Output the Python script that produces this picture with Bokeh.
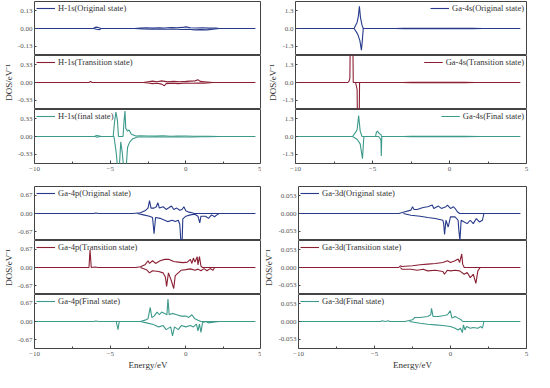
from bokeh.plotting import figure
from bokeh.layouts import column, row
from bokeh.models import (FixedTicker, NumeralTickFormatter, Legend, LegendItem,
                          Range1d)
from bokeh.embed import file_html
from bokeh.resources import INLINE

FONT = "Liberation Serif"
COLORS = ["#26398a", "#8a1f33", "#3c9a8b"]

X_TICKS = [-10, -5, 0, 5]
X_MINOR = [-7.5, -2.5, 2.5]

# ---------------- H-1s ----------------
H1S_LABELS = ["H-1s(Original state)", "H-1s(Transition state)", "H-1s(final state)"]
H1S_YMAX = [0.2, 0.5, 0.5]
H1S_TICK = [0.13, 0.33, 0.33]
H1S_ORIG_UP = [(-10, 0), (-6.1, 0), (-6.0, 0.008), (-5.85, 0.01), (-5.7, 0.004), (-5.6, 0),
               (-3.4, 0), (-3.0, 0.003), (-2.6, 0.005), (-2.2, 0.003), (-1.8, 0.006), (-1.4, 0.004),
               (-1.0, 0.007), (-0.6, 0.005), (-0.2, 0.008), (0.0, 0.012), (0.3, 0.005), (0.7, 0.004),
               (1.1, 0.006), (1.5, 0.003), (2.0, 0.004), (2.2, 0), (4.6, 0)]
H1S_ORIG_DN = [(-6.1, 0), (-5.9, -0.006), (-5.7, -0.008), (-5.6, 0), (-3.4, 0), (-2.8, -0.003),
               (-2.3, -0.005), (-1.8, -0.004), (-1.3, -0.006), (-0.8, -0.004), (-0.3, -0.007),
               (0.2, -0.005), (0.6, -0.01), (1.0, -0.008), (1.4, -0.01), (1.8, -0.006), (2.2, 0)]
H1S_TRANS_UP = [(-10, 0), (-6.4, 0), (-6.3, 0.02), (-6.2, 0), (-2.8, 0), (-2.5, 0.015), (-2.2, 0.025),
                (-1.9, 0.015), (-1.6, 0.03), (-1.2, 0.012), (-0.8, 0.02), (-0.4, 0.015), (0.0, 0.02),
                (0.3, 0.025), (0.6, 0.03), (0.8, 0.05), (0.95, 0.02), (1.2, 0.015), (1.8, 0), (4.6, 0)]
H1S_TRANS_DN = [(-2.8, 0), (-2.5, -0.01), (-2.2, -0.02), (-1.9, -0.015), (-1.6, -0.03), (-1.42, -0.06),
                (-1.3, -0.02), (-0.9, -0.015), (-0.5, -0.02), (0.0, -0.01), (0.4, -0.015), (0.8, -0.01),
                (1.2, -0.012), (1.8, 0)]
H1S_FINAL_UP = [(-10, 0), (-6.05, 0), (-5.9, 0.02), (-5.7, 0.01), (-5.6, 0), (-4.8, 0), (-4.72, 0.25),
                (-4.62, 0.45), (-4.52, 0.3), (-4.45, 0), (-4.15, 0), (-4.08, 0.3), (-4.02, 0.47),
                (-3.97, 0.15), (-3.85, 0.1), (-3.75, 0.12), (-3.6, 0.04), (-3.3, 0.01), (-3.0, 0.015),
                (-2.5, 0.01), (-2.0, 0.008), (-1.5, 0.012), (-1.0, 0.006), (-0.5, 0.01), (0.0, 0.008),
                (0.5, 0.006), (1.0, 0.005), (1.5, 0.004), (2.2, 0), (4.6, 0)]
H1S_FINAL_DN = [(-6.0, 0), (-5.85, -0.015), (-5.7, 0), (-4.75, 0), (-4.6, -0.3), (-4.5, -0.6),
                (-4.4, -0.6), (-4.3, -0.1), (-4.2, -0.3), (-4.1, -0.6), (-3.95, -0.6), (-3.85, -0.2),
                (-3.7, -0.1), (-3.5, -0.04), (-3.2, -0.01), (-2.5, -0.01), (-2.0, -0.006),
                (-1.5, -0.01), (-1.0, -0.008), (-0.5, -0.006), (0.0, -0.01), (0.5, -0.008),
                (1.0, -0.006), (1.5, -0.005), (2.2, 0)]

# ---------------- Ga-4s ----------------
GA4S_LABELS = ["Ga-4s(Original state)", "Ga-4s(Transition state)", "Ga-4s(Final state)"]
GA4S_YMAX = [2.0, 2.0, 2.0]
GA4S_TICK = [1.3, 1.3, 1.3]
GA4S_ORIG_UP = [(-10, 0), (-6.2, 0), (-6.0, 0.45), (-5.92, 0.9), (-5.85, 1.65), (-5.78, 0.8),
                (-5.68, 0.25), (-5.6, 0), (-3.5, 0), (-3.0, 0.01), (-2.5, 0.02), (-2.0, 0.01),
                (-1.5, 0.02), (-1.0, 0.01), (-0.5, 0.015), (0.0, 0.01), (0.5, 0.01), (1.0, 0.008),
                (1.5, 0.006), (2.2, 0), (4.6, 0)]
GA4S_ORIG_DN = [(-6.2, 0), (-6.05, -0.25), (-5.95, -0.45), (-5.82, -0.9), (-5.72, -1.6),
                (-5.66, -0.9), (-5.6, 0), (-3.5, 0), (-3.0, -0.01), (-2.5, -0.015), (-2.0, -0.01),
                (-1.5, -0.02), (-1.0, -0.01), (-0.5, -0.015), (0.0, -0.01), (0.5, -0.012),
                (1.0, -0.008), (1.5, -0.006), (2.2, 0)]
GA4S_TRANS_UP = [(-10, 0), (-6.6, 0), (-6.52, 0.1), (-6.47, 0.3), (-6.45, 2.5), (-6.27, 2.5),
                 (-6.25, 0), (-3.1, 0), (-2.5, 0.015), (-2.0, 0.01), (-1.5, 0.02), (-1.0, 0.01),
                 (-0.5, 0.015), (0.0, 0.01), (0.5, 0.012), (1.0, 0.01), (1.65, 0), (4.6, 0)]
GA4S_TRANS_DN = [(-6.1, 0), (-6.0, -0.5), (-5.98, -2.5), (-5.86, -2.5), (-5.84, 0), (-3.1, 0),
                 (-2.5, -0.01), (-2.0, -0.015), (-1.5, -0.01), (-1.0, -0.02), (-0.5, -0.01),
                 (0.0, -0.015), (0.5, -0.01), (1.0, -0.012), (1.65, 0)]
GA4S_FINAL_UP = [(-10, 0), (-6.3, 0), (-6.1, 0.3), (-6.0, 0.5), (-5.9, 1.56), (-5.8, 0.4),
                 (-5.68, 0), (-4.8, 0), (-4.75, 0.3), (-4.68, 0.4), (-4.55, 0.2), (-4.45, 0.15),
                 (-4.42, 0), (-3.0, 0), (-2.5, 0.015), (-2.0, 0.01), (-1.5, 0.02), (-1.0, 0.01),
                 (-0.5, 0.015), (0.0, 0.01), (0.5, 0.012), (1.0, 0.008), (2.0, 0), (4.6, 0)]
GA4S_FINAL_DN = [(-6.3, 0), (-6.0, -0.2), (-5.8, -0.55), (-5.65, -1.65), (-5.58, -0.3),
                 (-5.55, 0), (-4.6, 0), (-4.5, -0.15), (-4.45, -0.3), (-4.43, -1.45), (-4.4, -0.1),
                 (-4.38, 0), (-3.0, 0), (-2.5, -0.01), (-2.0, -0.015), (-1.5, -0.01), (-1.0, -0.015),
                 (-0.5, -0.01), (0.0, -0.015), (0.5, -0.01), (1.0, -0.01), (2.0, 0)]

# ---------------- Ga-4p ----------------
GA4P_LABELS = ["Ga-4p(Original state)", "Ga-4p(Transition state)", "Ga-4p(Final state)"]
GA4P_YMAX = [1.0, 1.0, 1.0]
GA4P_TICK = [0.67, 0.67, 0.67]
GA4P_ORIG_UP = [(-10, 0), (-6.1, 0), (-5.95, 0.02), (-5.75, 0), (-3.5, 0), (-3.0, 0.03),
                (-2.7, 0.1), (-2.5, 0.2), (-2.4, 0.48), (-2.3, 0.2), (-2.1, 0.2), (-1.95, 0.25),
                (-1.85, 0.4), (-1.75, 0.2), (-1.5, 0.25), (-1.3, 0.15), (-1.1, 0.22), (-0.95, 0.28),
                (-0.8, 0.15), (-0.6, 0.2), (-0.4, 0.12), (-0.25, 0.15), (-0.13, 0.25), (0.0, 0.1),
                (0.2, 0.05), (0.4, 0.03), (0.56, 0), (4.6, 0)]
GA4P_ORIG_DN = [(-3.2, 0), (-2.8, -0.05), (-2.4, -0.1), (-2.2, -0.15), (-2.1, -0.75), (-2.0, -0.15),
                (-1.7, -0.18), (-1.4, -0.25), (-1.2, -0.3), (-0.9, -0.25), (-0.7, -0.3), (-0.5, -0.25),
                (-0.4, -0.4), (-0.32, -1.1), (-0.25, -1.1), (-0.2, -0.2), (0.0, -0.1), (0.3, -0.05),
                (0.6, -0.03), (0.8, -0.1), (0.92, -0.35), (1.0, -0.1), (1.3, -0.1), (1.5, -0.18),
                (1.7, -0.05), (1.9, -0.12), (2.05, -0.05), (2.2, 0)]
GA4P_TRANS_UP = [(-10, 0), (-6.4, 0), (-6.33, 0.65), (-6.25, 0), (-6.0, 0.02), (-5.8, 0),
                 (-3.3, 0), (-3.0, 0.03), (-2.7, 0.1), (-2.5, 0.25), (-2.4, 0.15), (-2.2, 0.25),
                 (-2.0, 0.15), (-1.7, 0.25), (-1.4, 0.3), (-1.1, 0.3), (-0.8, 0.22), (-0.5, 0.2),
                 (-0.2, 0.18), (0.1, 0.2), (0.3, 0.3), (0.4, 0.15), (0.5, 0.35), (0.6, 0.2),
                 (0.75, 0.4), (0.8, 0.1), (0.9, 0.4), (1.0, 0.05), (1.1, 0), (4.6, 0)]
GA4P_TRANS_DN = [(-3.0, 0), (-2.6, -0.08), (-2.4, -0.2), (-2.2, -0.12), (-1.8, -0.15),
                 (-1.5, -0.2), (-1.35, -0.35), (-1.27, -0.7), (-1.15, -0.2), (-0.95, -0.5),
                 (-0.8, -0.78), (-0.7, -0.3), (-0.5, -0.2), (-0.3, -0.1), (0.0, -0.08),
                 (0.3, -0.05), (0.6, -0.1), (0.8, -0.06), (1.0, -0.12), (1.2, -0.04), (1.4, -0.12),
                 (1.6, -0.04), (1.8, -0.1), (1.9, 0)]
GA4P_FINAL_UP = [(-10, 0), (-6.1, 0), (-5.95, 0.02), (-5.75, 0), (-3.0, 0), (-2.7, 0.05),
                 (-2.5, 0.1), (-2.35, 0.52), (-2.25, 0.15), (-2.1, 0.2), (-1.9, 0.35), (-1.75, 0.25),
                 (-1.6, 0.35), (-1.4, 0.3), (-1.25, 0.25), (-1.18, 0.83), (-1.1, 0.25), (-0.9, 0.3),
                 (-0.6, 0.25), (-0.3, 0.2), (0.0, 0.2), (0.2, 0.15), (0.4, 0.25), (0.6, 0.1),
                 (0.8, 0.05), (1.0, 0), (4.6, 0)]
GA4P_FINAL_DN = [(-4.6, 0), (-4.48, -0.3), (-4.4, 0), (-3.0, 0), (-2.6, -0.05), (-2.2, -0.1),
                 (-2.0, -0.15), (-1.8, -0.2), (-1.5, -0.15), (-1.3, -0.3), (-1.0, -0.2),
                 (-0.88, -0.53), (-0.75, -0.2), (-0.5, -0.3), (-0.3, -0.15), (0.0, -0.2),
                 (0.3, -0.15), (0.5, -0.2), (0.7, -0.1), (0.8, -0.35), (0.9, -0.1), (1.0, -0.4),
                 (1.1, -0.05), (1.3, 0), (1.5, -0.05), (1.8, -0.03), (2.2, 0)]

# ---------------- Ga-3d ----------------
GA3D_LABELS = ["Ga-3d(Original state)", "Ga-3d(Transition state)", "Ga-3d(Final state)"]
GA3D_YMAX = [0.08, 0.08, 0.08]
GA3D_TICK = [0.053, 0.053, 0.053]
GA3D_ORIG_UP = [(-10, 0), (-3.4, 0), (-3.0, 0.005), (-2.6, 0.01), (-2.5, 0.02), (-2.4, 0.012),
                (-2.2, 0.012), (-1.8, 0.018), (-1.5, 0.02), (-1.2, 0.025), (-1.1, 0.015),
                (-0.8, 0.022), (-0.6, 0.015), (-0.3, 0.02), (-0.2, 0.025), (0.0, 0.015),
                (0.2, 0.02), (0.35, 0.012), (0.45, 0.005), (0.6, 0), (4.6, 0)]
GA3D_ORIG_DN = [(-3.1, 0), (-2.6, -0.005), (-2.0, -0.008), (-1.5, -0.012), (-1.0, -0.015),
                (-0.5, -0.02), (-0.45, -0.03), (-0.39, -0.062), (-0.3, -0.02), (-0.15, -0.04),
                (0.0, -0.01), (0.3, -0.01), (0.5, -0.02), (0.55, -0.05), (0.62, -0.08),
                (0.7, -0.02), (0.9, -0.025), (1.1, -0.03), (1.3, -0.02), (1.5, -0.03),
                (1.7, -0.015), (1.9, -0.025), (2.1, -0.02), (2.2, 0)]
GA3D_TRANS_UP = [(-10, 0), (-3.4, 0), (-3.3, 0.005), (-3.2, 0.003), (-2.5, 0.005), (-2.0, 0.008),
                 (-1.5, 0.01), (-1.0, 0.012), (-0.5, 0.015), (-0.2, 0.02), (0.0, 0.015),
                 (0.3, 0.02), (0.5, 0.025), (0.6, 0.015), (0.74, 0.04), (0.8, 0.01), (0.9, 0),
                 (4.6, 0)]
GA3D_TRANS_DN = [(-3.3, 0), (-3.2, -0.005), (-2.6, -0.005), (-2.2, -0.008), (-1.8, -0.005),
                 (-1.5, -0.01), (-1.0, -0.008), (-0.5, -0.012), (-0.4, -0.02), (-0.2, -0.008),
                 (0.0, -0.01), (0.3, -0.008), (0.6, -0.01), (0.9, -0.02), (1.1, -0.015),
                 (1.3, -0.03), (1.5, -0.02), (1.67, -0.047), (1.8, -0.01), (1.95, 0)]
GA3D_FINAL_UP = [(-10, 0), (-4.6, 0), (-4.5, 0.002), (-4.3, 0), (-4.1, 0.002), (-4.0, 0),
                 (-3.0, 0), (-2.5, 0.005), (-2.35, 0.012), (-2.0, 0.012), (-1.5, 0.015),
                 (-1.3, 0.02), (-1.25, 0.039), (-1.15, 0.015), (-0.8, 0.015), (-0.4, 0.018),
                 (-0.2, 0.02), (-0.02, 0.032), (0.1, 0.01), (0.3, 0.015), (0.5, 0.01), (0.7, 0.005),
                 (0.8, 0), (4.6, 0)]
GA3D_FINAL_DN = [(-2.7, 0), (-2.0, -0.005), (-1.5, -0.008), (-1.0, -0.01), (-0.5, -0.012),
                 (0.0, -0.015), (0.3, -0.02), (0.5, -0.025), (0.65, -0.02), (0.78, -0.033),
                 (0.85, -0.01), (0.95, -0.025), (1.05, -0.015), (1.3, -0.02), (1.5, -0.018),
                 (1.8, -0.02), (2.0, -0.015), (2.1, -0.02), (2.2, 0)]

PANELS = [
    dict(labels=H1S_LABELS, ymax=H1S_YMAX, tick=H1S_TICK, fmt="0.00",
         curves=[(H1S_ORIG_UP, H1S_ORIG_DN), (H1S_TRANS_UP, H1S_TRANS_DN), (H1S_FINAL_UP, H1S_FINAL_DN)],
         side="left", legend="top_left", bottom=False),
    dict(labels=GA4S_LABELS, ymax=GA4S_YMAX, tick=GA4S_TICK, fmt="0.0",
         curves=[(GA4S_ORIG_UP, GA4S_ORIG_DN), (GA4S_TRANS_UP, GA4S_TRANS_DN), (GA4S_FINAL_UP, GA4S_FINAL_DN)],
         side="right", legend="top_right", bottom=False),
    dict(labels=GA4P_LABELS, ymax=GA4P_YMAX, tick=GA4P_TICK, fmt="0.00",
         curves=[(GA4P_ORIG_UP, GA4P_ORIG_DN), (GA4P_TRANS_UP, GA4P_TRANS_DN), (GA4P_FINAL_UP, GA4P_FINAL_DN)],
         side="left", legend="top_left", bottom=True),
    dict(labels=GA3D_LABELS, ymax=GA3D_YMAX, tick=GA3D_TICK, fmt="0.000",
         curves=[(GA3D_ORIG_UP, GA3D_ORIG_DN), (GA3D_TRANS_UP, GA3D_TRANS_DN), (GA3D_FINAL_UP, GA3D_FINAL_DN)],
         side="right", legend="top_left", bottom=True),
]

FRAME_W = 231
FRAME_H = 54
AX_COLOR = "#444444"
TICK_FONT = "7px"


def make_panel(pan):
    figs = []
    left_b = 30 if pan["side"] == "left" else 34
    right_b = 0 if pan["side"] == "left" else 4
    for i in range(3):
        top_b = 1 if (i == 0 and not pan["bottom"]) else 0
        if i == 2:
            bot_b = 24 if pan["bottom"] else 23
        else:
            bot_b = 0
        ym = pan["ymax"][i]
        p = figure(width=left_b + FRAME_W + right_b, height=top_b + FRAME_H + bot_b,
                   x_range=Range1d(-10, 5), y_range=Range1d(-ym, ym),
                   output_backend="svg", toolbar_location=None,
                   min_border_left=left_b, min_border_right=right_b,
                   min_border_top=top_b, min_border_bottom=bot_b)
        p.grid.visible = False
        p.outline_line_color = AX_COLOR
        p.outline_line_width = 1
        p.background_fill_color = "white"
        p.border_fill_color = "white"
        up, dn = pan["curves"][i]
        color = COLORS[i]
        r_up = p.line([a for a, b in up], [b for a, b in up], line_color=color, line_width=1.1)
        p.line([a for a, b in dn], [b for a, b in dn], line_color=color, line_width=1.1)

        yax = p.yaxis[0]
        t = pan["tick"][i]
        yax.ticker = FixedTicker(ticks=[-t, 0, t], minor_ticks=[])
        yax.formatter = NumeralTickFormatter(format=pan["fmt"])
        yax.major_label_text_font = FONT
        yax.major_label_text_font_size = TICK_FONT
        yax.major_label_text_color = "#555555"
        yax.major_tick_in = 2
        yax.major_tick_out = 0
        yax.major_tick_line_color = AX_COLOR
        yax.minor_tick_line_color = None
        yax.axis_line_color = None
        yax.major_label_standoff = 2
        if i == 1:
            yax.axis_label = "DOS/eV\u207b\u00b9"
            yax.axis_label_text_font = FONT
            yax.axis_label_text_font_size = "9px"
            yax.axis_label_text_font_style = "normal"
            yax.axis_label_text_color = "#333333"
            yax.axis_label_standoff = 1

        xax = p.xaxis[0]
        if i == 2:
            xax.ticker = FixedTicker(ticks=X_TICKS, minor_ticks=X_MINOR)
            xax.major_label_text_font = FONT
            xax.major_label_text_font_size = TICK_FONT
            xax.major_label_text_color = "#555555"
            xax.major_tick_in = 3
            xax.major_tick_out = 0
            xax.minor_tick_in = 2
            xax.minor_tick_out = 0
            xax.major_tick_line_color = AX_COLOR
            xax.minor_tick_line_color = AX_COLOR
            xax.axis_line_color = None
            xax.major_label_standoff = 3
            if pan["bottom"]:
                xax.axis_label = "Energy/eV"
                xax.axis_label_text_font = FONT
                xax.axis_label_text_font_size = "9px"
                xax.axis_label_text_font_style = "normal"
                xax.axis_label_text_color = "#333333"
                xax.axis_label_standoff = 1
        else:
            xax.visible = False

        leg = Legend(items=[LegendItem(label=pan["labels"][i], renderers=[r_up])],
                     location=pan["legend"], margin=2, padding=2, spacing=0,
                     glyph_width=19, glyph_height=8, label_height=9, label_standoff=3,
                     label_text_font=FONT, label_text_font_size="8.5px",
                     label_text_color="#333333", background_fill_alpha=0,
                     border_line_color=None)
        p.add_layout(leg, "center")
        figs.append(p)
    return column(*figs, spacing=0)


cols = [make_panel(pn) for pn in PANELS]
layout = column(row(cols[0], cols[1], spacing=0), row(cols[2], cols[3], spacing=0), spacing=0)

open("out.html", "w").write(file_html(layout, INLINE))
